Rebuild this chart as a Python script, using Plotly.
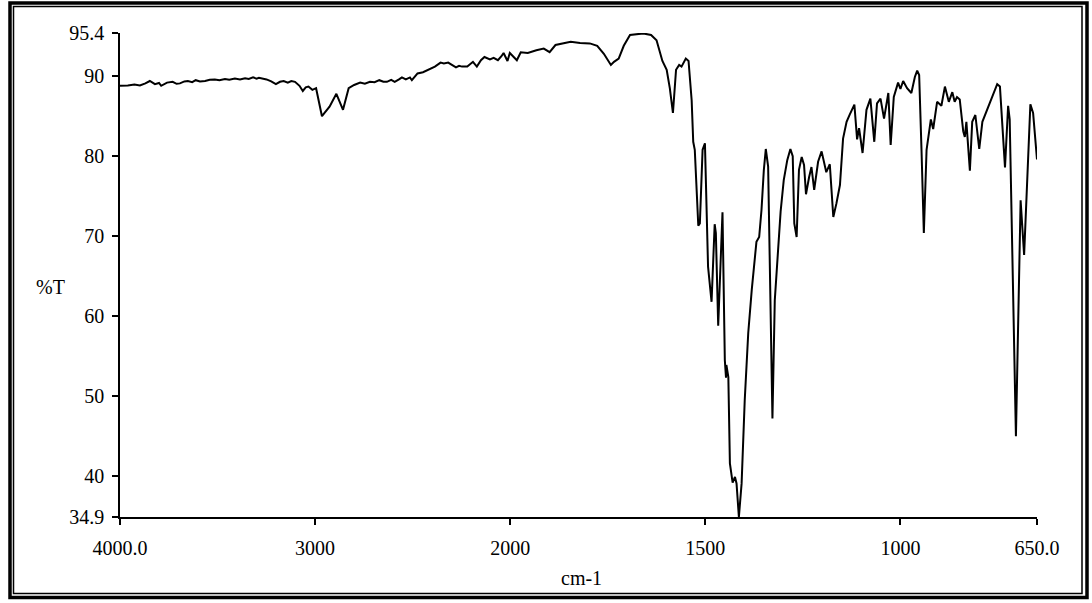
import plotly.graph_objects as go

# FT-IR transmittance spectrum (wavenumber in cm-1, transmittance in %T)
wavenumber = [
    4000, 3995, 3960, 3926, 3898, 3870, 3847, 3821, 3800, 3789, 3759, 3730, 3710, 3693,
    3670, 3652, 3630, 3612, 3590, 3564, 3540, 3514, 3490, 3462, 3440, 3411, 3385, 3359,
    3340, 3318, 3300, 3288, 3270, 3249, 3225, 3201, 3180, 3161, 3140, 3122, 3103, 3080,
    3063, 3048, 3034, 3014, 2995, 2965, 2926, 2891, 2857, 2828, 2800, 2769, 2745, 2719,
    2695, 2671, 2650, 2632, 2610, 2592, 2570, 2555, 2535, 2514, 2504, 2475, 2447, 2417,
    2386, 2357, 2340, 2318, 2300, 2278, 2262, 2247, 2220, 2205, 2191, 2171, 2150, 2132,
    2118, 2104, 2085, 2063, 2045, 2034, 2014, 2002, 1983, 1973, 1955, 1933, 1914, 1899,
    1884, 1865, 1845, 1821, 1796, 1777, 1760, 1742, 1734, 1722, 1709, 1693, 1678, 1659,
    1639, 1625, 1610, 1599, 1591, 1583, 1575, 1567, 1561, 1550, 1543, 1535, 1531, 1527,
    1518, 1514, 1507, 1501, 1493, 1484, 1476, 1473, 1467, 1456, 1450, 1447, 1446, 1441,
    1437, 1430, 1424, 1420, 1414, 1407, 1399, 1390, 1381, 1373, 1369, 1362, 1356, 1350,
    1345, 1339, 1333, 1328, 1322, 1316, 1307, 1299, 1290, 1282, 1276, 1272, 1266, 1260,
    1253, 1247, 1242, 1234, 1228, 1221, 1211, 1202, 1190, 1181, 1172, 1164, 1155, 1147,
    1138, 1130, 1118, 1111, 1106, 1097, 1087, 1077, 1067, 1060, 1051, 1042, 1031, 1025,
    1017, 1006, 1000, 993, 983, 972, 963, 957, 952, 946, 940, 933, 922, 916,
    906, 895, 886, 876, 867, 861, 855, 848, 839, 835, 831, 822, 816, 808,
    798, 790, 771, 752, 745, 732, 724, 720, 704, 692, 683, 667, 660, 650,
]
transmittance = [
    88.8, 88.8, 88.85, 88.95, 88.85, 89.1, 89.4, 89.0, 89.15, 88.8, 89.2, 89.3, 89.05, 89.1,
    89.35, 89.4, 89.25, 89.5, 89.35, 89.4, 89.55, 89.6, 89.5, 89.65, 89.55, 89.7, 89.6, 89.75,
    89.65, 89.85, 89.7, 89.8, 89.75, 89.6, 89.35, 89.0, 89.3, 89.4, 89.2, 89.4, 89.3, 88.8,
    88.15, 88.6, 88.7, 88.3, 88.5, 85.0, 86.2, 87.8, 85.8, 88.5, 88.9, 89.2, 89.05, 89.3,
    89.25, 89.5, 89.3, 89.3, 89.55, 89.3, 89.6, 89.85, 89.6, 89.85, 89.5, 90.35, 90.5, 90.8,
    91.2, 91.7, 91.6, 91.7, 91.4, 91.1, 91.3, 91.2, 91.2, 91.5, 91.8, 91.2, 92.0, 92.4,
    92.2, 92.1, 92.3, 92.0, 92.5, 92.9, 91.9, 92.9, 92.0, 93.0, 92.9, 93.25, 93.45, 93.0,
    93.9, 94.1, 94.3, 94.15, 94.1, 93.8, 92.8, 91.4, 91.8, 92.2, 93.8, 95.15, 95.2, 95.35,
    95.15, 94.5, 91.9, 90.8, 88.5, 85.4, 90.8, 91.4, 91.2, 92.2, 91.9, 87.0, 81.8, 80.8,
    71.3, 71.6, 80.8, 81.6, 66.2, 61.8, 71.5, 70.4, 58.8, 73.0, 54.5, 52.3, 53.9, 52.4,
    41.6, 39.2, 39.9, 39.1, 34.9, 39.1, 49.5, 57.9, 63.3, 67.4, 69.3, 69.9, 73.3, 78.3,
    80.9, 78.7, 62.0, 47.2, 62.0, 67.0, 73.1, 77.0, 79.5, 80.9, 80.0, 71.6, 69.9, 78.3,
    79.9, 78.9, 75.25, 77.4, 78.65, 75.8, 79.3, 80.6, 78.0, 79.0, 72.4, 74.1, 76.4, 82.2,
    84.3, 85.2, 86.45, 82.1, 83.5, 80.4, 85.8, 87.2, 81.8, 86.6, 87.2, 84.7, 87.9, 81.4,
    87.4, 89.2, 88.4, 89.4, 88.5, 87.9, 89.9, 90.7, 90.15, 80.8, 70.4, 80.8, 84.6, 83.4,
    86.8, 86.3, 88.7, 86.8, 88.0, 86.8, 87.4, 87.1, 83.1, 82.4, 84.3, 78.2, 84.3, 85.15,
    80.9, 84.3, 86.6, 89.0, 88.7, 78.6, 86.3, 84.6, 45.0, 74.5, 67.65, 86.5, 85.4, 79.6,
]

x_ticks = [4000, 3000, 2000, 1500, 1000, 650]
x_tick_text = ["4000.0", "3000", "2000", "1500", "1000", "650.0"]
y_ticks = [34.9, 40, 50, 60, 70, 80, 90, 95.4]
y_tick_text = ["34.9", "40", "50", "60", "70", "80", "90", "95.4"]

# Abscissa scale is compressed by a factor of two above 2000 cm-1
BREAK = 2000.0


def axis_pos(w):
    return w if w <= BREAK else BREAK + (w - BREAK) / 2.0


W, H = 1092, 603
L, R, T, B = 120, 55, 33, 86
PW, PH = W - L - R, H - T - B

FONT = '"Liberation Serif", "Times New Roman", Times, serif'
FS = 20


def px(x):
    return (x - L) / PW


def py(y):
    return (H - B - y) / PH


fig = go.Figure()
fig.add_trace(go.Scatter(
    x=[axis_pos(w) for w in wavenumber],
    y=transmittance,
    mode="lines",
    line=dict(color="black", width=2),
    hoverinfo="skip",
    showlegend=False,
))

fig.update_layout(
    width=W, height=H,
    margin=dict(l=L, r=R, t=T, b=B),
    paper_bgcolor="white",
    plot_bgcolor="white",
    font=dict(family=FONT, size=FS, color="black"),
    xaxis=dict(
        range=[axis_pos(4000), axis_pos(650)],
        tickmode="array",
        tickvals=[axis_pos(v) for v in x_ticks],
        ticktext=x_tick_text,
        ticks="outside", ticklen=6, tickwidth=1.5, tickcolor="black",
        ticklabelstandoff=6,
        showline=True, linecolor="black", linewidth=1.5,
        showgrid=False, zeroline=False,
        tickfont=dict(family=FONT, size=FS, color="black"),
    ),
    yaxis=dict(
        range=[34.9, 95.4],
        tickmode="array",
        tickvals=y_ticks,
        ticktext=y_tick_text,
        ticks="outside", ticklen=6, tickwidth=1.5, tickcolor="black",
        ticklabelstandoff=4,
        showline=True, linecolor="black", linewidth=1.5,
        showgrid=False, zeroline=False,
        tickfont=dict(family=FONT, size=FS, color="black"),
    ),
)

fig.add_annotation(x=px(50), y=py(287), xref="paper", yref="paper", text="%T",
                   xanchor="center", yanchor="middle",
                   showarrow=False, font=dict(family=FONT, size=FS, color="black"))
fig.add_annotation(x=px(581), y=py(578), xref="paper", yref="paper", text="cm-1",
                   xanchor="center", yanchor="middle",
                   showarrow=False, font=dict(family=FONT, size=FS, color="black"))

# double page frame: heavy outer rule, thin inner rule
fig.add_shape(type="rect", xref="paper", yref="paper",
              x0=px(10), x1=px(1087), y0=py(597.5), y1=py(3),
              line=dict(color="black", width=3.5), layer="above")
fig.add_shape(type="rect", xref="paper", yref="paper",
              x0=px(13.5), x1=px(1082), y0=py(593.5), y1=py(6.5),
              line=dict(color="black", width=1.5), layer="above")

fig.write_html("out.html")
